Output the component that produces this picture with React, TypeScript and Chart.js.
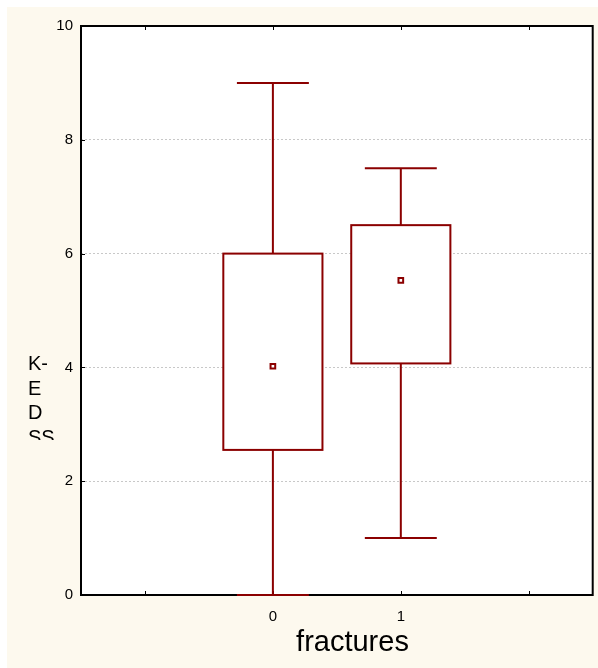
import React, { useEffect, useRef } from "react";
import { Chart, registerables } from "chart.js";

Chart.register(...registerables);

// ---- data ----
const categories = ["0", "1"];
const categoryPositions = [0, 1];
const xTickValues = [-1, 0, 1, 2];
const yTickValues = [0, 2, 4, 6, 8, 10];
const whiskerMin = [0, 1.0];
const boxLow = [2.55, 4.07];
const meanValues = [4.02, 5.53];
const boxHigh = [6.0, 6.5];
const whiskerMax = [9.0, 7.5];
const yTitleLines = ["K-", "E", "D", "SS"];
const xTitle = "fractures";

// ---- style ----
const RED = "#8B0000";
const CREAM = "#FDF9EE";
const FONT = "'Liberation Sans', Arial, sans-serif";
const BOX_WIDTH = 0.775; // in x data units
const CAP_WIDTH = 0.5625;

const statPlugin = {
  id: "statPlugin",
  beforeDraw(chart: any) {
    const { ctx, chartArea: a } = chart;
    ctx.save();
    ctx.fillStyle = "#ffffff";
    ctx.fillRect(a.left, a.top, a.right - a.left, a.bottom - a.top);
    ctx.restore();
  },
  beforeDatasetsDraw(chart: any) {
    const { ctx, chartArea: a, scales } = chart;
    const x = scales.x;
    const y = scales.y;
    ctx.save();
    // inward tick marks
    ctx.strokeStyle = "#000";
    ctx.lineWidth = 1;
    ctx.beginPath();
    x.ticks.forEach((t: any) => {
      const px = Math.round(x.getPixelForValue(t.value)) + 0.5;
      ctx.moveTo(px, a.bottom);
      ctx.lineTo(px, a.bottom - 4);
      ctx.moveTo(px, a.top);
      ctx.lineTo(px, a.top + 4);
    });
    y.ticks.forEach((t: any) => {
      const py = Math.round(y.getPixelForValue(t.value)) + 0.5;
      ctx.moveTo(a.left, py);
      ctx.lineTo(a.left + 4, py);
    });
    ctx.stroke();
    // frame
    ctx.lineWidth = 2;
    ctx.strokeRect(a.left, a.top, a.right - a.left, a.bottom - a.top);

    // boxes and whiskers
    ctx.strokeStyle = RED;
    ctx.lineWidth = 2;
    categoryPositions.forEach((c, i) => {
      const cx = x.getPixelForValue(c);
      const bl = x.getPixelForValue(c - BOX_WIDTH / 2);
      const br = x.getPixelForValue(c + BOX_WIDTH / 2);
      const cl = x.getPixelForValue(c - CAP_WIDTH / 2);
      const cr = x.getPixelForValue(c + CAP_WIDTH / 2);
      const yMin = y.getPixelForValue(whiskerMin[i]);
      const yMax = y.getPixelForValue(whiskerMax[i]);
      const yLo = y.getPixelForValue(boxLow[i]);
      const yHi = y.getPixelForValue(boxHigh[i]);
      ctx.beginPath();
      ctx.moveTo(cx, yHi);
      ctx.lineTo(cx, yMax);
      ctx.moveTo(cl, yMax);
      ctx.lineTo(cr, yMax);
      ctx.moveTo(cx, yLo);
      ctx.lineTo(cx, yMin);
      ctx.moveTo(cl, yMin);
      ctx.lineTo(cr, yMin);
      ctx.stroke();
      ctx.fillStyle = "#ffffff";
      ctx.fillRect(bl, yHi, br - bl, yLo - yHi);
      ctx.strokeRect(bl, yHi, br - bl, yLo - yHi);
    });
    ctx.restore();
  },
  afterDraw(chart: any) {
    const { ctx } = chart;
    ctx.save();
    ctx.fillStyle = "#000";
    // y title: wrapped, clipped
    ctx.beginPath();
    ctx.rect(0, 0, 70, 433);
    ctx.clip();
    ctx.font = `20px ${FONT}`;
    ctx.textAlign = "left";
    ctx.textBaseline = "alphabetic";
    yTitleLines.forEach((line, i) => {
      ctx.fillText(line, 21, 363 + i * 24.5);
    });
    ctx.restore();
    ctx.save();
    ctx.fillStyle = "#000";
    ctx.font = `29px ${FONT}`;
    ctx.textAlign = "center";
    ctx.textBaseline = "alphabetic";
    ctx.fillText(xTitle, 345.5, 644);
    ctx.restore();
  },
};

export default function App() {
  const ref = useRef<HTMLCanvasElement | null>(null);
  useEffect(() => {
    if (!ref.current) return;
    const chart = new Chart(ref.current, {
      type: "scatter",
      data: {
        datasets: [
          {
            label: "mean",
            data: categoryPositions.map((c, i) => ({ x: c, y: meanValues[i] })),
            pointStyle: "rect",
            pointRadius: 3.3,
            pointHoverRadius: 3.3,
            borderColor: RED,
            backgroundColor: "#ffffff",
            borderWidth: 2,
            showLine: false,
          },
        ],
      },
      options: {
        animation: false,
        responsive: false,
        devicePixelRatio: 1,
        layout: { padding: { top: 19, right: 5, left: 0, bottom: 0 } },
        plugins: {
          legend: { display: false },
          tooltip: { enabled: false },
        },
        events: [],
        scales: {
          x: {
            type: "linear",
            position: "bottom",
            min: -1.5,
            max: 2.5,
            afterBuildTicks: (s: any) => {
              s.ticks = xTickValues.map((v) => ({ value: v }));
            },
            afterFit: (s: any) => {
              s.height = 73;
              s.paddingLeft = 0;
              s.paddingRight = 0;
            },
            grid: { display: false, drawTicks: false },
            border: { display: false },
            ticks: {
              padding: 13,
              color: "#000",
              font: { family: FONT, size: 15 },
              maxRotation: 0,
              minRotation: 0,
              autoSkip: false,
              callback: (v: any) => {
                const i = categoryPositions.indexOf(Number(v));
                return i >= 0 ? categories[i] : "";
              },
            },
          },
          y: {
            type: "linear",
            min: 0,
            max: 10,
            afterBuildTicks: (s: any) => {
              s.ticks = yTickValues.map((v) => ({ value: v }));
            },
            afterFit: (s: any) => {
              s.width = 74;
              s.paddingTop = 0;
              s.paddingBottom = 0;
            },
            grid: {
              drawTicks: false,
              color: (c: any) =>
                c.tick && (c.tick.value === 0 || c.tick.value === 10)
                  ? "rgba(0,0,0,0)"
                  : "#c8c8c8",
              lineWidth: 1,
            },
            border: { display: false, dash: [2, 2] },
            ticks: {
              padding: 8,
              color: "#000",
              font: { family: FONT, size: 15 },
            },
          },
        },
      },
      plugins: [statPlugin],
    } as any);
    return () => chart.destroy();
  }, []);

  return (
    <div
      style={{
        position: "absolute",
        left: 7,
        top: 7,
        width: 591,
        height: 661,
        background: CREAM,
      }}
    >
      <canvas ref={ref} width={591} height={661} style={{ width: 591, height: 661, display: "block" }} />
    </div>
  );
}
